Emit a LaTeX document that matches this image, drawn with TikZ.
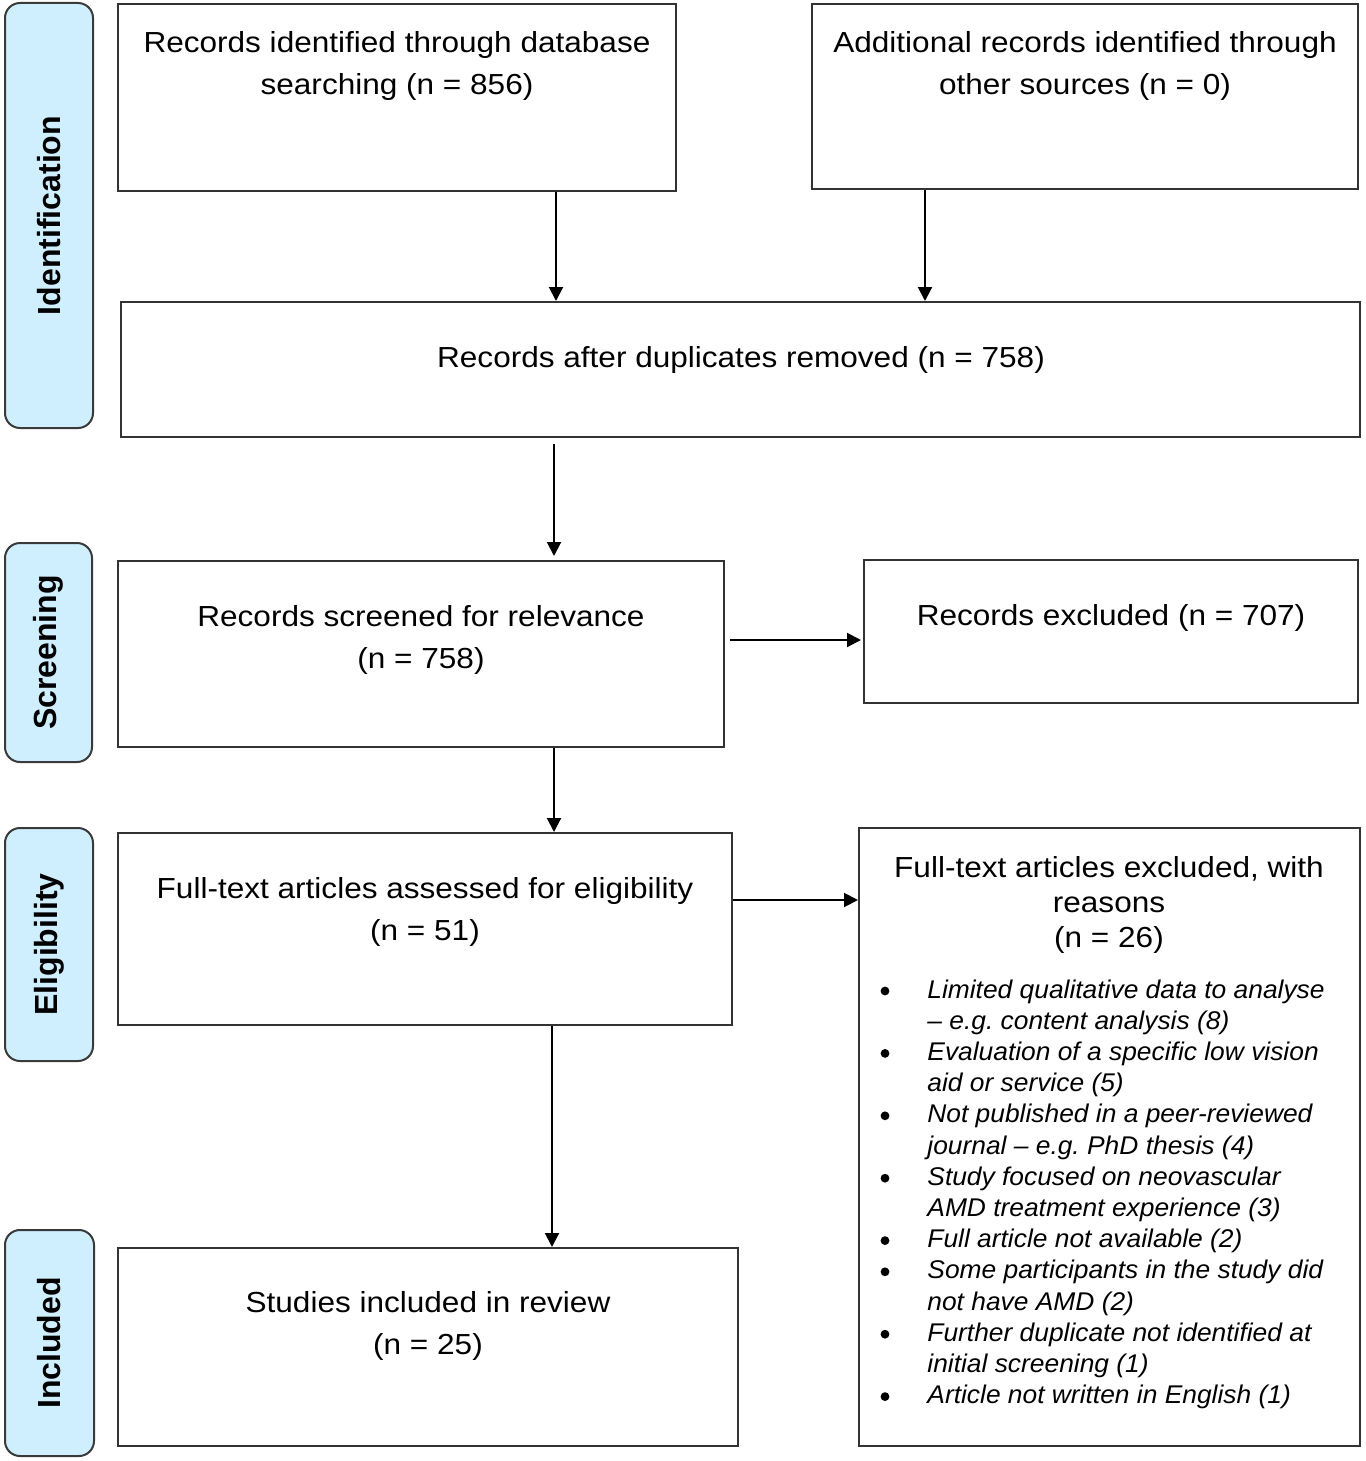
\documentclass[tikz,border=0pt]{standalone}
\usepackage{fontspec}
\setmainfont{Liberation Sans}
\newfontfamily\mainf{Liberation Sans}[FakeStretch=1.088]
\newfontfamily\itf{Liberation Sans}[FakeStretch=1.03]
\usetikzlibrary{arrows.meta,fit}
\definecolor{boxc}{HTML}{333333}
\definecolor{sidec}{HTML}{3A3A3A}
\definecolor{sidefill}{HTML}{CFEFFF}
\frenchspacing
\begin{document}
\begin{tikzpicture}[x=0.5pt,y=-0.5pt,
  box/.style={draw=boxc, line width=1pt, inner sep=0pt},
  side/.style={draw=sidec, fill=sidefill, rounded corners=7.5pt, line width=1pt, inner sep=0pt},
  maintxt/.style={font=\mainf\fontsize{14.5}{17}\selectfont, anchor=base, inner sep=0pt},
  sidetxt/.style={font=\bfseries\fontsize{16}{19}\selectfont, rotate=90, inner sep=0pt},
  bultxt/.style={font=\itf\itshape\fontsize{12.8}{15}\selectfont, anchor=base west, inner sep=0pt},
  arr/.style={-{Triangle[length=7pt,width=7pt]}, line width=1pt, draw=black}
]
\useasboundingbox (0,0) rectangle (1365,1461);

% side labels
\node[side, fit={(5,3) (93,428)}] (S1) {};
\node[side, fit={(5,543) (92,762)}] (S2) {};
\node[side, fit={(5,828) (93,1061)}] (S3) {};
\node[side, fit={(5,1230) (94,1456)}] (S4) {};
\node[sidetxt] (S1t) at (S1.center) {Identification};
\node[sidetxt] (S2t) at (S2.center) {Screening};
\node[sidetxt] (S3t) at (S3.center) {Eligibility};
\node[sidetxt] (S4t) at (S4.center) {Included};

% boxes
\node[box, fit={(118,4) (676,191)}] (A) {};
\node[box, fit={(812,4) (1358,189)}] (B) {};
\node[box, fit={(121,302) (1360,437)}] (C) {};
\node[box, fit={(118,561) (724,747)}] (D) {};
\node[box, fit={(864,560) (1358,703)}] (E) {};
\node[box, fit={(118,833) (732,1025)}] (F) {};
\node[box, fit={(859,828) (1360,1446)}] (G) {};
\node[box, fit={(118,1248) (738,1446)}] (H) {};

% texts
\node[maintxt] (A1) at (397,53) {Records identified through database};
\node[maintxt] (A2) at (397,95) {searching (n = 856)};
\node[maintxt] (B1) at (1085,53) {Additional records identified through};
\node[maintxt] (B2) at (1085,95) {other sources (n = 0)};
\node[maintxt] (C1) at (741,367) {Records after duplicates removed (n = 758)};
\node[maintxt] (D1) at (421,626) {Records screened for relevance};
\node[maintxt] (D2) at (421,668) {(n = 758)};
\node[maintxt] (E1) at (1111,625) {Records excluded (n = 707)};
\node[maintxt] (F1) at (425,898) {Full-text articles assessed for eligibility};
\node[maintxt] (F2) at (425,940) {(n = 51)};
\node[maintxt] (G1) at (1109,877) {Full-text articles excluded, with};
\node[maintxt] (G2) at (1109,912) {reasons};
\node[maintxt] (G3) at (1109,947) {(n = 26)};
\node[maintxt] (H1) at (428,1312) {Studies included in review};
\node[maintxt] (H2) at (428,1354) {(n = 25)};

% bullet list
\foreach \i/\t in {0/{Limited qualitative data to analyse},
  1/{– e.g. content analysis (8)},
  2/{Evaluation of a specific low vision},
  3/{aid or service (5)},
  4/{Not published in a peer-reviewed},
  5/{journal – e.g. PhD thesis (4)},
  6/{Study focused on neovascular},
  7/{AMD treatment experience (3)},
  8/{Full article not available (2)},
  9/{Some participants in the study did},
  10/{not have AMD (2)},
  11/{Further duplicate not identified at},
  12/{initial screening (1)},
  13/{Article not written in English (1)}}
  {\node[bultxt] (L\i) at (927,998+31.2*\i) {\t};}
\foreach \i in {0,2,4,6,8,9,11,13}
  {\fill (885,991+31.2*\i) circle (2.2pt);}

% arrows
\coordinate (xa) at (556,0);
\coordinate (xb) at (925,0);
\coordinate (xc) at (554,0);
\coordinate (xh) at (552,0);
\coordinate (yd) at (0,640);
\coordinate (yf) at (0,900);
\draw[arr] (A.south -| xa) -- (C.north -| xa);
\draw[arr] (B.south -| xb) -- (C.north -| xb);
\draw[arr, shorten <=3pt, shorten >=2pt] (C.south -| xc) -- (D.north -| xc);
\draw[arr, shorten <=2.5pt, shorten >=1pt] (D.east |- yd) -- (E.west |- yd);
\draw[arr] (D.south -| xc) -- (F.north -| xc);
\draw[arr] (F.east |- yf) -- (G.west |- yf);
\draw[arr] (F.south -| xh) -- (H.north -| xh);
\end{tikzpicture}
\end{document}
